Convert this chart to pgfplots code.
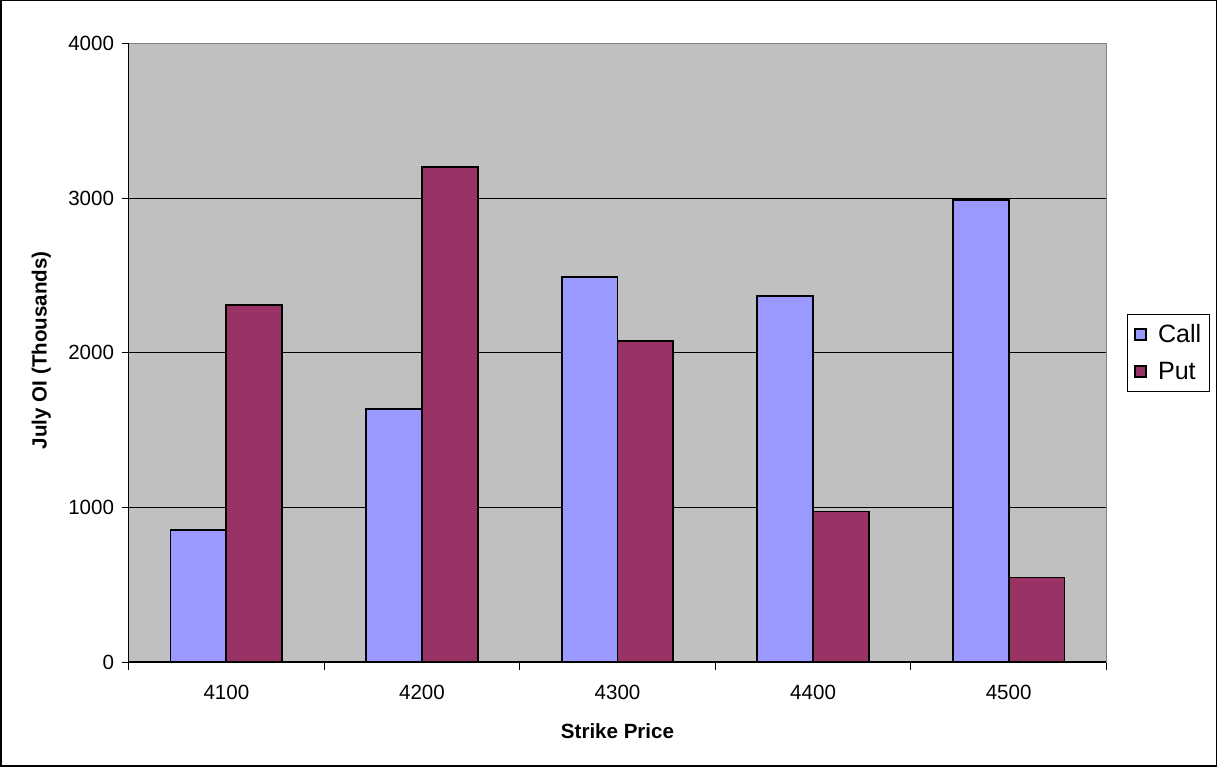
\documentclass[border=0pt]{standalone}
\usepackage{pgfplots}
\pgfplotsset{compat=1.18}
\usepackage{fontspec}
\setmainfont{Liberation Sans}
\definecolor{callblue}{HTML}{9999FF}
\definecolor{putplum}{HTML}{993366}
\definecolor{plotgray}{HTML}{C0C0C0}
\definecolor{bordergray}{HTML}{808080}

\begin{document}
\begin{tikzpicture}
\begin{axis}[
  scale only axis, width=975pt, height=617pt,
  xmin=-0.5, xmax=4.5, ymin=0, ymax=4000,
  ybar=0pt, bar width=55.7pt,
  xtick={0,1,2,3,4}, xticklabels={4100,4200,4300,4400,4500},
  minor xtick={-0.5,0.5,1.5,2.5,3.5,4.5},
  ytick={0,1000,2000,3000,4000},
  major x tick style={draw=none},
  tick align=outside, tick pos=left,
  major tick length=7pt, minor tick length=8pt,
  every tick/.style={black, line width=1pt},
  ymajorgrids, major grid style={black, line width=0.8pt},
  axis line style={bordergray, line width=1.3pt},
  axis background/.style={fill=plotgray},
  /pgf/number format/assume math mode=true,
  /pgf/number format/1000 sep={},
  scaled y ticks=false,
  tick label style={font=\fontsize{20.5}{24}\selectfont},
  xticklabel style={yshift=-12pt},
  yticklabel style={xshift=-4pt},
  label style={font=\fontsize{20.5}{24}\selectfont\bfseries},
  xlabel={Strike Price}, ylabel={July OI (Thousands)},
  xlabel style={at={(axis description cs:0.5,-0.1118)}, anchor=center},
  ylabel style={at={(axis description cs:-0.0892,0.504)}, anchor=center},
  legend cell align=left,
  legend style={at={(1.0215,0.5624)}, anchor=north west, draw=black,
    line width=1pt, font=\fontsize{25}{29}\selectfont,
    inner xsep=6pt, inner ysep=8pt, row sep=14pt,
    /tikz/every odd column/.append style={column sep=9pt}},
  legend image code/.code={\draw[#1, line width=2pt] (0pt,-5.5pt) rectangle (11pt,5.5pt);},
  after end axis/.code={
    \draw[black, line width=1.3pt] (rel axis cs:0,1) -- (rel axis cs:0,0) -- (rel axis cs:1,0);
    \coordinate (boxsw) at (rel axis cs:0,0);
  },
]
\addplot[fill=callblue, draw=black, line width=1.8pt]
  coordinates {(0,856) (1,1634) (2,2488) (3,2368) (4,2989)};
\addplot[fill=putplum, draw=black, line width=1.8pt]
  coordinates {(0,2308) (1,3203) (2,2077) (3,974) (4,547)};
\legend{Call, Put}
\end{axis}
% chart frame around the whole figure
\draw[line width=1.5pt] ([shift={(-127.5pt,-103.5pt)}]boxsw) rectangle ([shift={(1084.5pt,659.5pt)}]boxsw);
\end{tikzpicture}
\end{document}
